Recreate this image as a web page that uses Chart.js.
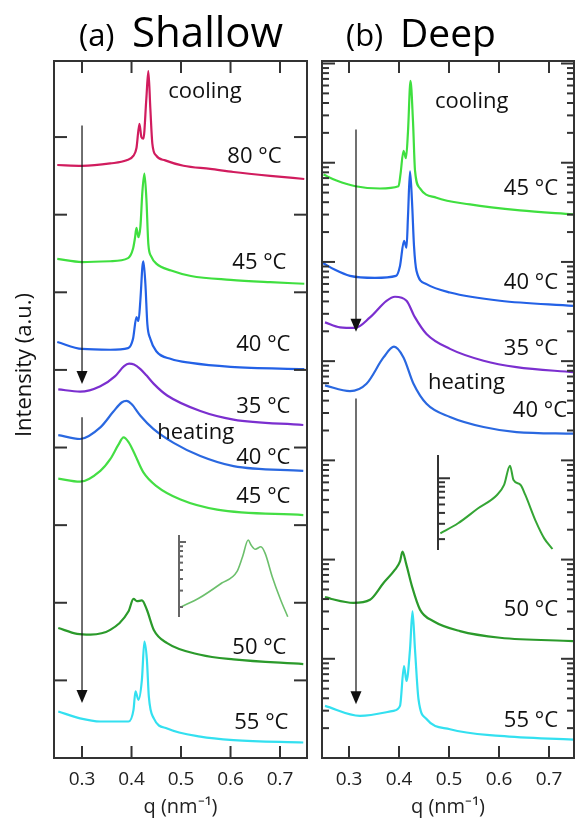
<!DOCTYPE html>
<html><head><meta charset="utf-8">
<script src="https://cdn.jsdelivr.net/npm/chart.js@4.4.1/dist/chart.umd.min.js"></script>
<style>
html,body{margin:0;padding:0;background:#fff;width:576px;height:825px;overflow:hidden;}
canvas{position:absolute;display:block;}
</style></head><body>
<canvas id="cA" width="316" height="825" style="left:0;top:0"></canvas>
<canvas id="cB" width="260" height="825" style="left:316px;top:0"></canvas>
<canvas id="iA" width="125" height="95" style="left:170px;top:528px"></canvas>
<canvas id="iB" width="135" height="108" style="left:428px;top:448px"></canvas>
<script>
// ---------- data ----------
const qTicks = [0.3, 0.4, 0.5, 0.6, 0.7];
const qTickLabels = ['0.3', '0.4', '0.5', '0.6', '0.7'];
const yMajorA = [1, 2, 3, 4, 5, 6, 7, 8];
const decadesB = [1, 10, 100, 1e3, 1e4, 1e5, 1e6, 1e7];
const insetTicks = [2, 3, 4, 5, 6, 7, 8, 9, 10];

// Panel (a) Shallow: [q, intensity (offset, linear a.u.)]
const shallowCool80 = [[0.250,7.64],[0.300,7.63],[0.357,7.66],[0.390,7.70],[0.404,7.76],[0.410,7.86],[0.416,8.17],[0.420,8.00],[0.424,7.98],[0.430,8.50],[0.434,8.85],[0.438,8.37],[0.442,7.92],[0.450,7.76],[0.468,7.70],[0.505,7.63],[0.559,7.59],[0.606,7.55],[0.680,7.50],[0.749,7.46]];
const shallowCool45 = [[0.250,6.43],[0.300,6.39],[0.357,6.40],[0.393,6.44],[0.403,6.56],[0.407,6.70],[0.410,6.83],[0.414,6.71],[0.418,6.85],[0.422,7.30],[0.426,7.53],[0.430,7.21],[0.434,6.62],[0.440,6.46],[0.450,6.37],[0.480,6.28],[0.520,6.21],[0.600,6.16],[0.680,6.13],[0.749,6.11]];
const shallowCool40 = [[0.250,5.36],[0.300,5.27],[0.357,5.26],[0.393,5.28],[0.403,5.40],[0.410,5.68],[0.414,5.63],[0.418,5.91],[0.422,6.33],[0.424,6.40],[0.428,6.11],[0.432,5.59],[0.438,5.40],[0.450,5.24],[0.480,5.14],[0.520,5.09],[0.600,5.04],[0.749,5.01]];
const shallowCool35 = [[0.252,4.75],[0.296,4.72],[0.337,4.79],[0.367,4.92],[0.385,5.05],[0.395,5.08],[0.405,5.07],[0.418,5.01],[0.430,4.93],[0.445,4.82],[0.472,4.67],[0.539,4.47],[0.606,4.36],[0.747,4.29]];
const shallowHeat40 = [[0.252,4.16],[0.296,4.11],[0.337,4.26],[0.363,4.46],[0.380,4.58],[0.390,4.60],[0.400,4.56],[0.418,4.41],[0.444,4.24],[0.485,4.06],[0.539,3.89],[0.606,3.76],[0.747,3.70]];
const shallowHeat45 = [[0.252,3.60],[0.296,3.56],[0.337,3.70],[0.357,3.85],[0.373,4.03],[0.384,4.13],[0.394,4.07],[0.404,3.95],[0.424,3.68],[0.451,3.50],[0.499,3.33],[0.573,3.20],[0.747,3.13]];
const shallowHeat50 = [[0.252,1.675],[0.290,1.60],[0.317,1.59],[0.357,1.65],[0.394,1.89],[0.404,2.05],[0.411,2.02],[0.421,2.03],[0.431,1.91],[0.445,1.65],[0.472,1.48],[0.539,1.33],[0.606,1.27],[0.747,1.21]];
const shallowHeat55 = [[0.252,0.60],[0.296,0.51],[0.337,0.47],[0.394,0.47],[0.404,0.62],[0.408,0.86],[0.414,0.75],[0.421,1.01],[0.426,1.50],[0.431,1.27],[0.435,0.79],[0.445,0.51],[0.472,0.38],[0.539,0.275],[0.606,0.23],[0.747,0.20]];
const shallowInset = [[0.381,1.99],[0.394,2.48],[0.410,3.60],[0.421,4.80],[0.425,6.95],[0.429,10.5],[0.431,9.29],[0.434,8.35],[0.438,8.90],[0.441,7.55],[0.446,4.24],[0.452,2.38],[0.457,1.57]];

// Panel (b) Deep: [q, intensity (log a.u.)]
const deepCool45 = [[0.249,7.59e5],[0.275,6.62e5],[0.313,5.79e5],[0.362,5.50e5],[0.399,5.79e5],[0.403,7.66e5],[0.409,1.32e6],[0.414,1.11e6],[0.418,2.07e6],[0.423,6.67e6],[0.428,2.61e6],[0.432,8.36e5],[0.442,5.51e5],[0.475,4.43e5],[0.542,3.80e5],[0.642,3.31e5],[0.748,3.02e5]];
const deepCool40 = [[0.248,9.77e4],[0.272,8.32e4],[0.302,7.23e4],[0.352,6.90e4],[0.394,7.23e4],[0.402,9.12e4],[0.410,1.63e5],[0.415,1.39e5],[0.418,2.90e5],[0.422,8.20e5],[0.426,4.09e5],[0.430,1.45e5],[0.435,8.13e4],[0.455,5.97e4],[0.502,4.92e4],[0.602,4.06e4],[0.748,3.61e4]];
const deepCool35 = [[0.252,2.46e4],[0.282,2.19e4],[0.312,2.16e4],[0.342,2.76e4],[0.375,4.06e4],[0.392,4.46e4],[0.415,4.06e4],[0.432,2.76e4],[0.455,1.88e4],[0.502,1.33e4],[0.569,1.01e4],[0.635,8.69e3],[0.749,7.74e3]];
const deepHeat40 = [[0.252,5.69e3],[0.302,4.99e3],[0.335,5.92e3],[0.369,1.09e4],[0.390,1.40e4],[0.409,1.09e4],[0.429,5.92e3],[0.455,3.72e3],[0.502,2.74e3],[0.569,2.17e3],[0.635,1.93e3],[0.749,1.86e3]];
const deepHeat50 = [[0.252,42.0],[0.265,40.1],[0.309,36.6],[0.342,39.4],[0.369,58.1],[0.392,79.1],[0.402,95.7],[0.407,120.5],[0.414,92.0],[0.426,53.7],[0.442,31.3],[0.469,23.9],[0.522,19.0],[0.602,16.3],[0.749,15.1]];
const deepHeat55 = [[0.252,3.35],[0.322,2.66],[0.389,2.99],[0.402,3.35],[0.410,8.45],[0.415,5.97],[0.422,12.4],[0.427,30.1],[0.432,12.4],[0.439,3.91],[0.455,2.47],[0.502,1.95],[0.602,1.67],[0.749,1.53]];
const deepInset = [[0.362,2.33],[0.377,3.04],[0.394,4.52],[0.410,6.43],[0.416,8.38],[0.421,13.96],[0.424,9.55],[0.430,8.38],[0.434,6.43],[0.443,3.17],[0.450,2.04],[0.457,1.54]];

// annotation texts
const notesAText = ['cooling','80 °C','45 °C','40 °C','35 °C','heating','40 °C','45 °C','50 °C','55 °C'];
const notesBText = ['cooling','45 °C','40 °C','35 °C','heating','40 °C','50 °C','55 °C'];

// ---------- styling / placement ----------
const FONT = "'Open Sans', 'Liberation Sans', sans-serif";
const notesAPos = [[0.474,8.58,'left'],[0.703,7.75,'right'],[0.713,6.38,'right'],[0.721,5.32,'right'],[0.721,4.52,'right'],[0.452,4.19,'left'],[0.721,3.87,'right'],[0.721,3.37,'right'],[0.713,1.42,'right'],[0.717,0.45,'right']];
const notesBPos = [[0.472,4.13e6,'left'],[0.718,5.53e5,'right'],[0.718,6.15e4,'right'],[0.718,1.34e4,'right'],[0.458,6.10e3,'left'],[0.736,3.19e3,'right'],[0.718,31.3,'right'],[0.718,2.35,'right']];
const arrowsA = [[0.300,8.15,4.82],[0.300,4.39,0.71]];
const arrowsB = [[0.314,2.16e6,1.98e4],[0.314,4.21e3,3.48]];

const decoPlugin = {
  id: 'deco',
  afterDraw(chart, args, o) {
    const ctx = chart.ctx, a = chart.chartArea, xs = chart.scales.x, ys = chart.scales.y;
    const ln = (x1, y1, x2, y2) => { ctx.beginPath(); ctx.moveTo(x1, y1); ctx.lineTo(x2, y2); ctx.stroke(); };
    ctx.save();
    ctx.strokeStyle = o.color || '#333';
    ctx.lineWidth = o.lw || 2;
    if (o.frame) ctx.strokeRect(a.left, a.top, a.right - a.left, a.bottom - a.top);
    if (o.axisLine) ln(a.left, a.top, a.left, a.bottom);
    (o.xTicks || []).forEach(v => {
      const px = xs.getPixelForValue(v);
      ln(px, a.bottom, px, a.bottom - o.xLen);
      ln(px, a.top, px, a.top + o.xLen);
    });
    (o.yTicks || []).forEach(t => {
      const py = ys.getPixelForValue(t[0]);
      if (py < a.top - 0.5 || py > a.bottom + 0.5) return;
      ln(a.left, py, a.left + t[1], py);
      if (o.mirror) ln(a.right, py, a.right - t[1], py);
    });
    // arrows
    ctx.strokeStyle = '#111'; ctx.fillStyle = '#111'; ctx.lineWidth = 1.2;
    (o.arrows || []).forEach(ar => {
      const px = xs.getPixelForValue(ar[0]);
      const y1 = ys.getPixelForValue(ar[1]), y2 = ys.getPixelForValue(ar[2]);
      ln(px, y1, px, y2 - 12);
      ctx.beginPath(); ctx.moveTo(px - 5.5, y2 - 13); ctx.lineTo(px + 5.5, y2 - 13); ctx.lineTo(px, y2); ctx.closePath(); ctx.fill();
    });
    // notes
    ctx.fillStyle = '#111'; ctx.textBaseline = 'middle';
    ctx.font = '22px ' + FONT;
    (o.notes || []).forEach((t, i) => {
      const p = o.notePos[i];
      ctx.textAlign = p[2];
      ctx.fillText(t, xs.getPixelForValue(p[0]), ys.getPixelForValue(p[1]));
    });
    // headers
    ctx.textBaseline = 'alphabetic'; ctx.textAlign = 'left'; ctx.fillStyle = '#000';
    (o.header || []).forEach(h => { ctx.font = h.size + 'px ' + FONT; ctx.fillText(h.text, h.x, h.y); });
    if (o.yTitle) {
      ctx.save(); ctx.translate(o.yTitle.x, o.yTitle.y); ctx.rotate(-Math.PI / 2);
      ctx.textAlign = 'center'; ctx.textBaseline = 'middle'; ctx.fillStyle = '#111';
      ctx.font = o.yTitle.size + 'px ' + FONT; ctx.fillText(o.yTitle.text, 0, 0);
      ctx.restore();
    }
    ctx.restore();
  }
};

function ds(pts, color, w) {
  return { data: pts.map(p => ({ x: p[0], y: p[1] })), borderColor: color, borderWidth: w || 2.2,
    pointRadius: 0, fill: false, cubicInterpolationMode: 'monotone' };
}
function xAxis(min, max) {
  return {
    type: 'linear', min: min, max: max,
    afterBuildTicks: s => { s.ticks = qTicks.map(v => ({ value: v })); },
    ticks: { callback: v => qTickLabels[qTicks.indexOf(v)], color: '#222', font: { family: FONT, size: 19 }, padding: 10.6, maxRotation: 0, autoSkip: false },
    grid: { display: false, drawTicks: false }, border: { display: false },
    title: { display: true, text: 'q (nm⁻¹)', color: '#222', font: { family: FONT, size: 20, lineHeight: 0.5 }, padding: { top: 0, bottom: 13 } }
  };
}
const base = { responsive: false, animation: false, devicePixelRatio: 1, events: [] };

// Panel (a)
const yTicksA = yMajorA.map(v => [v, 13]);
new Chart(document.getElementById('cA'), {
  type: 'line',
  data: { datasets: [
    ds(shallowCool80, '#d11c5e'), ds(shallowCool45, '#3fdf3f'), ds(shallowCool40, '#2361e6'),
    ds(shallowCool35, '#7b2fcf'), ds(shallowHeat40, '#2a68e0'), ds(shallowHeat45, '#44de44'),
    ds(shallowHeat50, '#2b9a2b'), ds(shallowHeat55, '#33e0f0') ] },
  options: Object.assign({}, base, {
    layout: { padding: { left: 54, right: 9, top: 61, bottom: 0 } },
    plugins: { legend: { display: false }, tooltip: { enabled: false },
      deco: { frame: true, color: '#333', lw: 2, xTicks: qTicks, xLen: 12, yTicks: yTicksA, mirror: true,
        arrows: arrowsA, notes: notesAText, notePos: notesAPos,
        header: [{ text: '(a)', size: 31, x: 79, y: 46 }, { text: 'Shallow', size: 42, x: 132, y: 47 }],
        yTitle: { text: 'Intensity (a.u.)', size: 22, x: 25, y: 365 } } },
    scales: { x: xAxis(0.2434, 0.7545), y: { type: 'linear', display: false, min: 0, max: 8.98 } }
  }),
  plugins: [decoPlugin]
});

// Panel (b)
const yTicksB = [];
decadesB.forEach(d => { yTicksB.push([d, 13]); if (d < 1e7) for (let k = 2; k <= 9; k++) yTicksB.push([d * k, 7]); });
new Chart(document.getElementById('cB'), {
  type: 'line',
  data: { datasets: [
    ds(deepCool45, '#3fdf3f'), ds(deepCool40, '#2361e6'), ds(deepCool35, '#7b2fcf'),
    ds(deepHeat40, '#2a68e0'), ds(deepHeat50, '#2b9a2b'), ds(deepHeat55, '#33e0f0') ] },
  options: Object.assign({}, base, {
    layout: { padding: { left: 6, right: 2, top: 61, bottom: 0 } },
    plugins: { legend: { display: false }, tooltip: { enabled: false },
      deco: { frame: true, color: '#333', lw: 2, xTicks: qTicks, xLen: 12, yTicks: yTicksB, mirror: true,
        arrows: arrowsB, notes: notesBText, notePos: notesBPos,
        header: [{ text: '(b)', size: 31, x: 30, y: 46 }, { text: 'Deep', size: 39, x: 84, y: 47 }] } },
    scales: { x: xAxis(0.246, 0.750), y: { type: 'logarithmic', display: false, min: 1, max: 1.06e7 } }
  }),
  plugins: [decoPlugin]
});

// Insets
function inset(id, pts, color, w, ymin, ymax, xmin, xmax, pad, axisColor, majLen, minLen) {
  new Chart(document.getElementById(id), {
    type: 'line',
    data: { datasets: [ds(pts, color, w)] },
    options: Object.assign({}, base, {
      layout: { padding: pad },
      plugins: { legend: { display: false }, tooltip: { enabled: false },
        deco: { axisLine: true, color: axisColor, lw: 2, yTicks: insetTicks.map(v => [v, v === 10 ? majLen : minLen]) } },
      scales: { x: { type: 'linear', display: false, min: xmin, max: xmax },
                y: { type: 'logarithmic', display: false, min: ymin, max: ymax } }
    }),
    plugins: [decoPlugin]
  });
}
inset('iA', shallowInset, '#6cbf6c', 1.6, 1.56, 11.9, 0.38, 0.46, { left: 9, right: 3, top: 7, bottom: 6 }, '#666', 7, 4);
inset('iB', deepInset, '#35a535', 2, 1.50, 18.5, 0.36, 0.46, { left: 10, right: 7, top: 7, bottom: 6 }, '#333', 12, 7);
</script>
</body></html>
